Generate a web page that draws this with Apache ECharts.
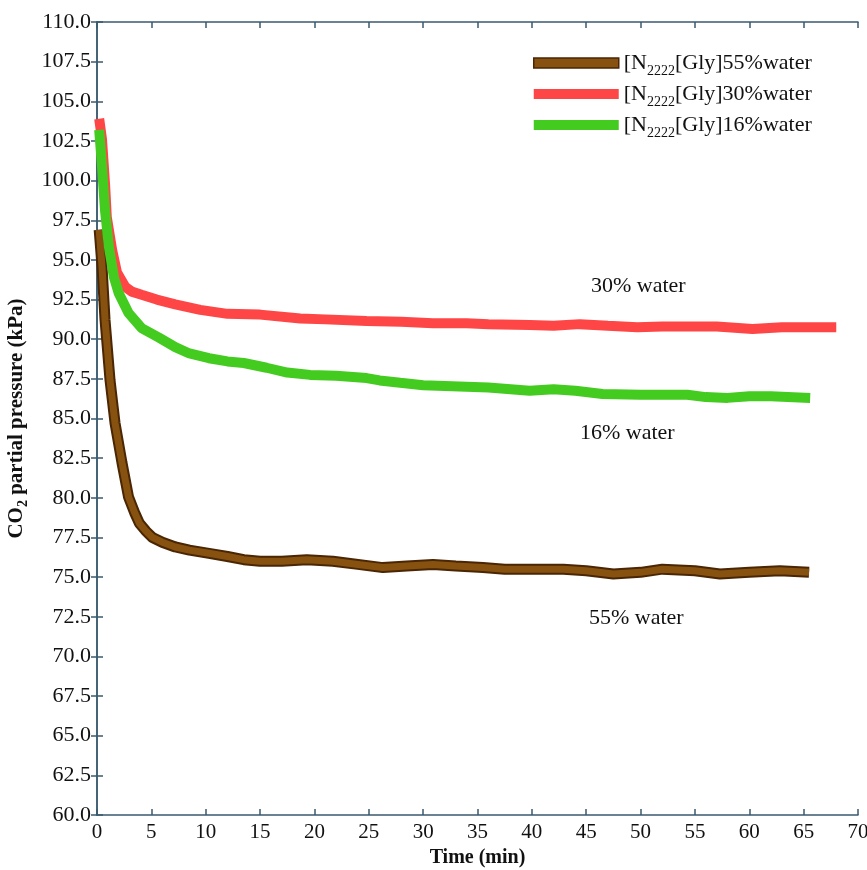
<!DOCTYPE html>
<html><head><meta charset="utf-8">
<script src="https://cdn.jsdelivr.net/npm/echarts@6/dist/echarts.min.js"></script>
<style>html,body{margin:0;padding:0;background:#fff}#c{width:867px;height:870px}</style>
</head><body><div id="c"></div>
<script>
// ---- data ----
const seriesNames = ['[N2222][Gly]55%water','[N2222][Gly]30%water','[N2222][Gly]16%water'];
const xTicks = [0,5,10,15,20,25,30,35,40,45,50,55,60,65,70];
const yTicks = [60,62.5,65,67.5,70,72.5,75,77.5,80,82.5,85,87.5,90,92.5,95,97.5,100,102.5,105,107.5,110];

const t55 = [0.2,0.46,0.74,1.2,1.66,2.3,2.9,3.5,3.9,4.5,5.1,6,7.2,8.5,10.3,12,13.5,15,17,19.3,21.7,24,26.3,28.5,30.9,33,35.5,37.5,39.8,42.9,45,47.5,50,52,55,57.3,60,62.8,65.5];
const v55 = [96.9,94.6,91.2,87.4,84.7,82.2,80.05,79.0,78.4,77.9,77.5,77.2,76.9,76.7,76.5,76.3,76.1,76.0,76.0,76.1,76.0,75.8,75.6,75.7,75.8,75.7,75.6,75.5,75.5,75.5,75.4,75.2,75.3,75.5,75.4,75.2,75.3,75.4,75.3];

const t30 = [0.2,0.46,0.74,0.9,1.4,1.84,2.6,3.2,4.1,5.5,7.2,9.5,12,15,18.7,21,24.8,28,30.9,34,36,39.8,42,44.4,47,49.7,52,54.3,57,60.3,63,66,68];
const v30 = [103.9,102.6,99.8,97.7,95.6,94.2,93.3,93.0,92.8,92.5,92.2,91.85,91.6,91.55,91.3,91.25,91.15,91.1,91.0,91.0,90.95,90.9,90.85,90.95,90.85,90.75,90.8,90.8,90.8,90.65,90.75,90.75,90.75];

const t16 = [0.2,0.46,0.74,1.1,1.56,2.0,2.9,4.1,5.7,7.2,8.5,10.3,12,13.5,15.6,17.5,19.6,22,24.8,26,27.9,30,34,36,39.8,42,44,46.5,50,54.3,56,58,60,62,65.6];
const v16 = [103.2,100.9,98.1,95.8,93.9,92.9,91.65,90.7,90.1,89.5,89.1,88.8,88.6,88.5,88.2,87.9,87.75,87.7,87.55,87.4,87.25,87.1,87.0,86.95,86.75,86.85,86.75,86.55,86.5,86.5,86.35,86.3,86.4,86.4,86.3];

const annotations = ['30% water','16% water','55% water'];

// ---- chart ----
const pair = (t,v) => t.map((x,i)=>[x,v[i]]);
const serif = '"Liberation Serif","DejaVu Serif",serif';
const axisColor = '#3a5a6e';
const C_BROWN = '#87520f', C_BROWN_EDGE = '#4a2604', C_RED = '#ff4646', C_GREEN = '#43cc1f';

const chart = echarts.init(document.getElementById('c'));
const axCommon = {
  type:'value',
  axisLine:{show:true,lineStyle:{color:axisColor,width:1.5}},
  axisTick:{show:true,inside:true,length:6,lineStyle:{color:axisColor,width:1.5}},
  splitLine:{show:false}
};
function legendFmt(name){
  const rest = name.replace('[N2222]','');
  return '{a|[N}{s|2222}{a|' + rest + '}';
}
chart.setOption({
  animation:false,
  backgroundColor:'#fff',
  grid:{left:97,right:9,top:22,bottom:55,containLabel:false,outerBoundsMode:'none'},
  legend:{
    orient:'vertical', left:528, top:47, itemGap:5,
    itemWidth:85, itemHeight:10, icon:'rect',
    data:[
      {name:seriesNames[0], itemStyle:{color:C_BROWN,borderColor:C_BROWN_EDGE,borderWidth:1.5}},
      {name:seriesNames[1], itemStyle:{color:C_RED}},
      {name:seriesNames[2], itemStyle:{color:C_GREEN}}
    ],
    formatter:legendFmt,
    textStyle:{fontFamily:serif,color:'#111',
      rich:{a:{fontFamily:serif,fontSize:22,lineHeight:22,color:'#111',verticalAlign:'top'},
            s:{fontFamily:serif,fontSize:14,lineHeight:14,color:'#111',verticalAlign:'top',padding:[12,0,0,0]}}}
  },
  xAxis:[
    Object.assign({}, axCommon, {
      min:0,max:70,interval:5,position:'bottom',
      name:'Time (min)', nameLocation:'middle', nameGap:33,
      nameTextStyle:{fontFamily:serif,fontSize:20,fontWeight:'bold',color:'#111'},
      axisLabel:{fontFamily:serif,fontSize:21,color:'#111',margin:7,
        formatter:v=>xTicks.includes(v)?String(v):''}
    }),
    Object.assign({}, axCommon, {min:0,max:70,interval:5,position:'top',axisLabel:{show:false}})
  ],
  yAxis:[
    Object.assign({}, axCommon, {
      min:60,max:110,interval:2.5,position:'left',
      name:'{a|CO}{s|2}{a| partial pressure (kPa)}', nameLocation:'middle', nameGap:57, nameRotate:90,
      nameTextStyle:{fontFamily:serif,color:'#111',
        rich:{a:{fontFamily:serif,fontSize:21,fontWeight:'bold',color:'#111',verticalAlign:'bottom',padding:[0,0,4,0]},
              s:{fontFamily:serif,fontSize:14,fontWeight:'bold',color:'#111',verticalAlign:'bottom'}}},
      axisLabel:{fontFamily:serif,fontSize:22,color:'#111',margin:6,
        formatter:v=>yTicks.includes(v)?v.toFixed(1):''}
    }),
    Object.assign({}, axCommon, {min:60,max:110,interval:2.5,position:'right',axisLabel:{show:false}})
  ],
  series:[
    {name:'edge55',type:'line',data:pair(t55,v55),showSymbol:false,symbol:'none',
     lineStyle:{color:C_BROWN_EDGE,width:11},z:2,silent:true},
    {name:seriesNames[0],type:'line',data:pair(t55,v55),showSymbol:false,symbol:'none',
     itemStyle:{color:C_BROWN},lineStyle:{color:C_BROWN,width:7},z:3},
    {name:seriesNames[1],type:'line',data:pair(t30,v30),showSymbol:false,symbol:'none',
     itemStyle:{color:C_RED},lineStyle:{color:C_RED,width:10},z:4},
    {name:seriesNames[2],type:'line',data:pair(t16,v16),showSymbol:false,symbol:'none',
     itemStyle:{color:C_GREEN},lineStyle:{color:C_GREEN,width:10},z:5}
  ],
  graphic:[
    {type:'text',left:591,top:275,style:{text:annotations[0],font:'22px '+serif,fill:'#111'}},
    {type:'text',left:580,top:422,style:{text:annotations[1],font:'22px '+serif,fill:'#111'}},
    {type:'text',left:589,top:607,style:{text:annotations[2],font:'22px '+serif,fill:'#111'}}
  ]
});
</script></body></html>
